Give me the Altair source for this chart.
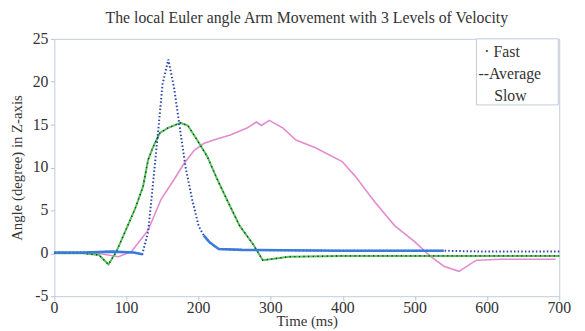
import altair as alt
import pandas as pd

# ---- data ----
fast_t = [0, 40, 80, 110, 122, 130, 137, 144, 150, 158, 166, 175, 182, 191, 200, 207, 215, 223, 228, 260, 320, 400, 480, 540, 600, 700]
fast_v = [0.1, 0.1, 0.2, 0.1, -0.1, 2.5, 8.3, 14.3, 19.7, 22.6, 19.3, 14.0, 10.0, 6.3, 3.2, 2.1, 1.3, 0.8, 0.5, 0.4, 0.35, 0.3, 0.3, 0.3, 0.2, 0.2]
fast_seg = ["s1"] * 5 + ["d1"] * 10 + ["s2"] * 9 + ["d2"] * 2

avg_t = [0, 40, 62, 75, 86, 98, 112, 123, 130, 137, 146, 157, 175, 185, 198, 212, 226, 239, 257, 276, 289, 307, 325, 400, 500, 600, 700]
avg_v = [0.0, 0.0, -0.2, -1.3, 0.2, 2.5, 5.2, 7.8, 10.9, 12.4, 14.0, 14.6, 15.2, 14.9, 13.2, 11.3, 8.6, 6.3, 3.2, 1.0, -0.8, -0.6, -0.4, -0.3, -0.3, -0.3, -0.3]

slow_t = [0, 60, 89, 107, 130, 148, 166, 180, 194, 207, 221, 244, 267, 280, 287, 298, 317, 335, 362, 399, 417, 444, 472, 499, 522, 540, 561, 585, 620, 695]
slow_v = [0.0, 0.0, -0.4, 0.2, 2.7, 6.3, 8.6, 10.5, 12.0, 12.8, 13.2, 13.8, 14.6, 15.3, 14.9, 15.5, 14.6, 13.2, 12.3, 10.7, 9.0, 6.0, 3.2, 1.4, -0.4, -1.5, -2.1, -0.8, -0.7, -0.7]

x_ticks = [0, 100, 200, 300, 400, 500, 600, 700]
y_ticks = [-5, 0, 5, 10, 15, 20, 25]

legend_labels = ["\u00b7 Fast", "--Average", "Slow"]

fast = pd.DataFrame({"t": fast_t, "v": fast_v, "seg": fast_seg})
avg = pd.DataFrame({"t": avg_t, "v": avg_v})
slow = pd.DataFrame({"t": slow_t, "v": slow_v})

FONT = "Liberation Serif"

axis_common = dict(grid=False, tickSize=4, tickColor="#b8c4d0", domain=False,
                   labels=False,
                   titleFontSize=15, titleFontWeight="normal", titleColor="#333",
                   titleFont=FONT)

xs = alt.Scale(domain=[0, 700], nice=False)
ys = alt.Scale(domain=[-5, 25], nice=False)
x = alt.X("t:Q", scale=xs,
          axis=alt.Axis(values=x_ticks, title="Time (ms)", titlePadding=13, **axis_common))
y = alt.Y("v:Q", scale=ys,
          axis=alt.Axis(values=y_ticks, title="Angle (degree) in Z-axis", titlePadding=26, **axis_common))

slow_line = alt.Chart(slow).mark_line(color="#e48bd0", strokeWidth=1.6).encode(x=x, y=y)

avg_line = alt.Chart(avg).mark_line(color="#55c25a", strokeWidth=2.0).encode(x=x, y=y)
avg_dots = alt.Chart(avg).mark_line(color="#1f2a2a", strokeWidth=1.4, strokeDash=[1.2, 3.5]).encode(x=x, y=y)

fast_dots = alt.Chart(fast).mark_line(color="#2846a8", strokeWidth=2, strokeDash=[1.5, 2.2]).encode(x=x, y=y)
fast_solid = alt.Chart(fast).transform_filter(
    (alt.datum.seg == "s1") | (alt.datum.seg == "s2")
).mark_line(color="#3b7bdc", strokeWidth=2.6).encode(x=x, y=y, detail="seg:N")

# tick labels as serif text
xlab = alt.Chart(pd.DataFrame({"t": x_ticks, "lab": [str(v) for v in x_ticks]})).mark_text(
    font=FONT, fontSize=16, color="#333", baseline="middle", align="center").encode(
    x=alt.X("t:Q", scale=xs), y=alt.value(273), text="lab:N")
ylab = alt.Chart(pd.DataFrame({"v": y_ticks, "lab": [str(v) for v in y_ticks]})).mark_text(
    font=FONT, fontSize=16, color="#333", baseline="middle", align="right").encode(
    y=alt.Y("v:Q", scale=ys), x=alt.value(-6), text="lab:N")

# legend (drawn as text in a box at the upper right of the plot)
box = alt.Chart(pd.DataFrame({"a": [0]})).mark_rect(
    fill="white", stroke="#c0ccd8", strokeWidth=1).encode(
    x=alt.value(428), x2=alt.value(511), y=alt.value(0), y2=alt.value(67))

leg_layers = []
for lab, yy, xx in zip(legend_labels, [13, 36, 58], [436, 430, 446]):
    leg_layers.append(
        alt.Chart(pd.DataFrame({"label": [lab]})).mark_text(
            align="left", baseline="middle", font=FONT, fontSize=16, color="#333").encode(
            text="label:N", x=alt.value(xx), y=alt.value(yy)))

chart = alt.layer(
    slow_line, avg_line, avg_dots, fast_dots, fast_solid, xlab, ylab, box, *leg_layers
).properties(
    width=512, height=261,
    title=alt.Title("The local Euler angle Arm Movement with 3 Levels of Velocity",
                    font=FONT, fontSize=16, fontWeight="normal", color="#333", offset=5),
    autosize=alt.AutoSizeParams(type="none"),
    padding={"left": 47, "top": 29, "right": 18, "bottom": 33},
    background="white"
).configure_view(stroke="#c0ccd8", strokeWidth=1, clip=False)

chart.save("out.html", embed_options={"renderer": "svg", "actions": False})
